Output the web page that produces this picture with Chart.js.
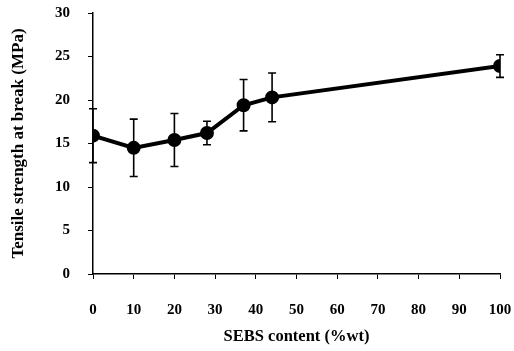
<!DOCTYPE html>
<html>
<head>
<meta charset="utf-8">
<script src="https://cdn.jsdelivr.net/npm/chart.js@4"></script>
<style>
  html, body { margin: 0; padding: 0; background: #fff; }
  #wrap { width: 514px; height: 351px; }
</style>
</head>
<body>
<div id="wrap"><canvas id="tensileChart" width="514" height="351"></canvas></div>
<script>
const sebsContent = [0, 10, 20, 28, 37, 44, 100];
const tensileStrength = [15.9, 14.5, 15.4, 16.2, 19.4, 20.3, 23.9];
const errorSize = [3.1, 3.3, 3.05, 1.35, 2.95, 2.8, 1.3];
const xTicks = [0, 10, 20, 30, 40, 50, 60, 70, 80, 90, 100];
const yTicks = [0, 5, 10, 15, 20, 25, 30];

const serif = "'Liberation Serif', 'DejaVu Serif', serif";

// error bars, drawn under the line and points
const errorBars = {
  id: "errorBars",
  beforeDatasetsDraw(chart) {
    const c = chart.ctx;
    const xs = chart.scales.x, ys = chart.scales.y;
    c.save();
    c.strokeStyle = "#000";
    c.lineWidth = 1.6;
    sebsContent.forEach((x, i) => {
      const px = xs.getPixelForValue(x);
      const top = ys.getPixelForValue(tensileStrength[i] + errorSize[i]);
      const bot = ys.getPixelForValue(tensileStrength[i] - errorSize[i]);
      c.beginPath();
      c.moveTo(px, top); c.lineTo(px, bot);
      c.moveTo(px - 4, top); c.lineTo(px + 4, top);
      c.moveTo(px - 4, bot); c.lineTo(px + 4, bot);
      c.stroke();
    });
    c.restore();
  }
};

const ctx = document.getElementById("tensileChart").getContext("2d");
new Chart(ctx, {
  type: "line",
  data: {
    datasets: [{
      data: sebsContent.map((x, i) => ({ x: x, y: tensileStrength[i] })),
      borderColor: "#000",
      backgroundColor: "#000",
      borderWidth: 4,
      pointRadius: 5,
      pointHoverRadius: 5,
      tension: 0
    }]
  },
  options: {
    responsive: false,
    animation: false,
    layout: { padding: 0 },
    plugins: { legend: { display: false }, tooltip: { enabled: false } },
    scales: {
      x: {
        type: "linear",
        min: 0, max: 100,
        afterFit(s) { s.height = 77; s.paddingRight = 14; },
        afterBuildTicks(s) { s.ticks = xTicks.map(v => ({ value: v })); },
        border: { display: true, color: "#000", width: 1.5 },
        grid: { drawOnChartArea: false, drawTicks: true, tickLength: 5, color: "#000", lineWidth: 1 },
        ticks: { color: "#000", padding: 22, maxRotation: 0, font: { family: serif, size: 15, weight: "bold" } },
        title: {
          display: true,
          text: "SEBS content (%wt)",
          color: "#000",
          padding: { top: 0, bottom: 4 },
          font: { family: serif, size: 16.5, weight: "bold" }
        }
      },
      y: {
        min: 0, max: 30,
        afterFit(s) { s.width = 93; s.paddingTop = 13; },
        afterBuildTicks(s) { s.ticks = yTicks.map(v => ({ value: v })); },
        border: { display: true, color: "#000", width: 1.5 },
        grid: { drawOnChartArea: false, drawTicks: true, tickLength: 5, color: "#000", lineWidth: 1 },
        ticks: { color: "#000", padding: 18, font: { family: serif, size: 15, weight: "bold" } },
        title: {
          display: true,
          text: "Tensile strength at break (MPa)",
          color: "#000",
          padding: { top: 8, bottom: 0 },
          font: { family: serif, size: 17, weight: "bold" }
        }
      }
    }
  },
  plugins: [errorBars]
});
</script>
</body>
</html>
